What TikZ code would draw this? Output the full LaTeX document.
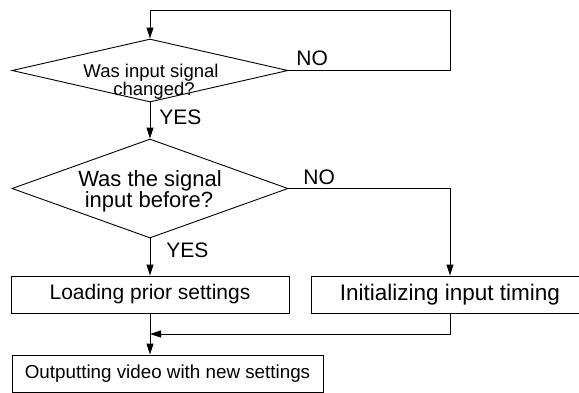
\documentclass[tikz,border=0pt]{standalone}
\usepackage{fontspec}
\setmainfont{Liberation Sans}
\usetikzlibrary{shapes.geometric,arrows.meta}
\begin{document}
\begin{tikzpicture}[x=1pt,y=-1pt,
  line width=0.9pt,
  arr/.style={-{Triangle[length=11pt,width=7pt]}},
  dia/.style={diamond,draw,inner sep=0pt,minimum width=276pt},
  box/.style={rectangle,draw,inner sep=0pt,minimum width=278pt,minimum height=37pt},
  lbl/.style={inner sep=0pt,anchor=base west,font=\fontsize{21}{24}\selectfont},
  txt/.style={inner sep=0pt,anchor=base}]
\clip (0,0) rectangle (579,392);
% diamonds
\node[dia,minimum height=63pt] (d1) at (150,70.5) {};
\node[dia,minimum height=99pt] (d2) at (150,188.5) {};
\node[txt,font=\fontsize{18.5}{20}\selectfont] (d1a) at (151,77.5) {Was input signal};
\node[txt,font=\fontsize{18.5}{20}\selectfont] (d1b) at (154,95.5) {changed?};
\node[txt,font=\fontsize{22}{24}\selectfont] (d2a) at (150,186.5) {Was the signal};
\node[txt,font=\fontsize{22}{24}\selectfont] (d2b) at (149,207.5) {input before?};
% boxes
\node[box,font=\fontsize{21}{24}\selectfont] (b1) at (150,294.5) {Loading prior settings};
\node[box,font=\fontsize{22.5}{24}\selectfont] (b2) at (450,294.5) {Initializing input timing};
\node[box,minimum width=311pt,font=\fontsize{18.8}{22}\selectfont] (b3) at (167.5,373.5) {Outputting video with new settings};
% labels
\node[lbl] (no1) at (296,65.5) {NO};
\node[lbl] (yes1) at (159,124) {YES};
\node[lbl] (no2) at (303,184) {NO};
\node[lbl] (yes2) at (166,257.5) {YES};
% connectors
\coordinate (c1) at (450,10);
\coordinate (m) at (150,334);
\draw[arr] (d1.east) -| (c1) -| (d1.north);
\draw[arr] (d1.south) -- (d2.north);
\draw[arr] (d2.east) -| (b2.north);
\draw[arr] (d2.south) -- (b1.north);
\draw[arr] (b1.south) -- (b1.south |- b3.north);
\draw[arr] (b2.south) |- (m);
\end{tikzpicture}
\end{document}
